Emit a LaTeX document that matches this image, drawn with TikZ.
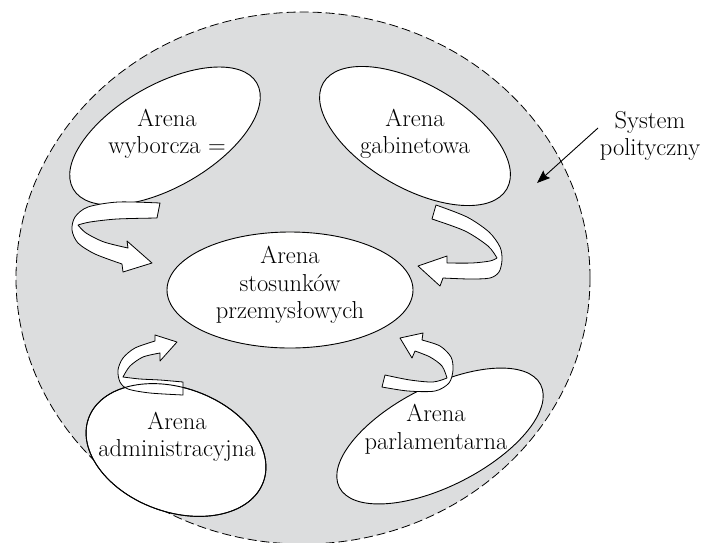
\documentclass[tikz,border=0pt]{standalone}
\usepackage{fontspec}
\usetikzlibrary{shapes.geometric,arrows.meta}
\definecolor{bggray}{RGB}{220,221,222}
\begin{document}
\begin{tikzpicture}[x=1pt,y=-1pt,
  arena/.style={ellipse, draw, line width=0.9pt, fill=white, inner sep=0pt},
  lbl/.style={align=center, inner sep=0pt, font=\fontsize{24.5}{27.5}\selectfont},
  ribbon/.style={draw, fill=white, line width=0.8pt, line join=round},
]
\useasboundingbox (0,0) rectangle (703,542);
% political system
\node[ellipse, draw, fill=bggray, line width=0.8pt, dash pattern=on 9pt off 4pt,
      minimum width=574pt, minimum height=532pt, inner sep=0pt] (sys) at (303,278) {};
% arenas
\node[arena, rotate=30,  minimum width=212pt, minimum height=102pt] (wyb) at (165,136) {};
\node[arena, rotate=-30, minimum width=212pt, minimum height=104pt] (gab) at (415,136) {};
\node[arena, minimum width=246pt, minimum height=116pt] (sto) at (290,290) {};
\node[arena, rotate=-20, minimum width=186pt, minimum height=124pt] (adm) at (176,450) {};
\node[arena, rotate=27,  minimum width=226pt, minimum height=100pt] (par) at (440,436) {};
% ribbons
\draw[ribbon] plot[smooth] coordinates {(160,203) (118,202) (88,207) (75,217) (72,230) (78,243) (95,254) (122,264)}
  -- (123,272) -- (152,263) -- (127,241) -- (128,248)
  -- plot[smooth] coordinates {(128,248) (104,242) (86,233) (78,225)}
  -- plot[smooth] coordinates {(78,225) (90,222) (117,219) (157,218)} -- cycle;
\draw[ribbon] plot[smooth] coordinates {(436,205) (467,217) (489,232) (500,247) (502,260) (499,272) (490,278) (470,279) (443,278)}
  -- (440,286) -- (418,266) -- (447,256) -- (447,263)
  -- plot[smooth] coordinates {(447,263) (472,263) (490,261) (497,258)}
  -- plot[smooth] coordinates {(497,258) (488,246) (465,231) (432,219)} -- cycle;
\draw[ribbon] plot[smooth] coordinates {(183,395) (150,393) (128,389) (120,382) (118,370) (123,358) (135,348) (155,341)}
  -- (155,335) -- (177,342) -- (160,361) -- (160,353)
  -- plot[smooth] coordinates {(160,353) (143,357) (130,366) (123,377)}
  -- plot[smooth] coordinates {(123,377) (140,379) (160,380) (183,382)} -- cycle;
\draw[ribbon] plot[smooth] coordinates {(385,375) (410,380) (433,382) (447,378)}
  -- plot[smooth] coordinates {(447,378) (442,366) (430,357) (415,351)}
  -- (412,358) -- (400,338) -- (423,333) -- (422,340)
  -- plot[smooth] coordinates {(422,340) (440,346) (451,357) (453,370) (449,383) (435,391) (408,391) (382,387)} -- cycle;
% outline of the administrative arena seen through its ribbon
\node[arena, fill=none, rotate=-20, minimum width=186pt, minimum height=124pt] (admo) at (176,450) {};
% labels
\node[lbl] (wybt) at (167,134) {Arena\\wyborcza =};
\node[lbl] (gabt) at (415,134) {Arena\\gabinetowa};
\node[lbl] (stot) at (290,285) {Arena\\stosunków\\przemysłowych};
\node[lbl] (admt) at (177,437) {Arena\\administracyjna};
\node[lbl] (part) at (436,429) {Arena\\parlamentarna};
\node[lbl] (syst) at (650,136) {System\\polityczny};
\coordinate (ptrS) at (598,128);
\coordinate (ptrE) at (537,183);
\draw[line width=0.9pt, -{Stealth[length=13pt,width=10pt,inset=2pt]}] (ptrS) -- (ptrE);
\end{tikzpicture}
\end{document}
